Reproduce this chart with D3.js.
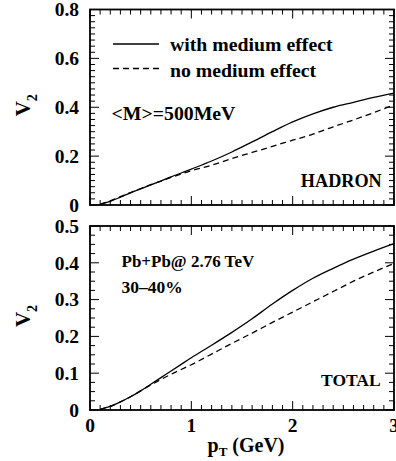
<!DOCTYPE html>
<html><head><meta charset="utf-8">
<script src="https://cdn.jsdelivr.net/npm/d3@7"></script>
</head><body style="margin:0">
<svg id="c" width="396" height="461"></svg>
<script>
const pT = [0.1,0.2,0.3,0.4,0.5,0.6,0.7,0.8,0.9,1.0,1.2,1.4,1.6,1.8,2.0,2.2,2.4,2.6,2.8,3.0];
const hadronWith = [0.003,0.015,0.032,0.05,0.066,0.082,0.098,0.115,0.131,0.147,0.18,0.217,0.258,0.30,0.34,0.373,0.40,0.42,0.44,0.458];
const hadronNo   = [0.004,0.017,0.034,0.051,0.067,0.083,0.098,0.113,0.127,0.14,0.163,0.19,0.215,0.24,0.265,0.29,0.32,0.348,0.378,0.41];
const totalWith  = [0.002,0.01,0.022,0.036,0.052,0.07,0.088,0.106,0.124,0.142,0.176,0.211,0.248,0.288,0.325,0.358,0.385,0.41,0.432,0.452];
const totalNo    = [0.002,0.01,0.022,0.036,0.052,0.068,0.083,0.097,0.11,0.123,0.152,0.181,0.209,0.238,0.266,0.294,0.322,0.35,0.375,0.398];
const xTicks = [0,1,2,3];
const topYTicks = [0,0.2,0.4,0.6,0.8];
const botYTicks = [0,0.1,0.2,0.3,0.4,0.5];
const legendLabels = ["with medium effect","no medium effect"];

const svg = d3.select("#c");
function txt(sel, size){
  return sel.append("text").style("font-family",'"Liberation Serif"').style("font-weight","bold").attr("font-size",size);
}
const x = d3.scaleLinear().domain([0,3]).range([90,394]);
const yTop = d3.scaleLinear().domain([0,0.8]).range([205,9.5]);
const yBot = d3.scaleLinear().domain([0,0.5]).range([410,226]);

function panel(y, yTicks, yFmt, series, yMinorStep, showXLabels){
  const g = svg.append("g");
  const [y0,y1] = y.range();
  const x0 = x.range()[0], x1 = x.range()[1];
  const lineGen = d3.line().x((d,i)=>x(pT[i])).y(d=>y(d)).curve(d3.curveMonotoneX);
  series.forEach(s=>{
    g.append("path").attr("d",lineGen(s.v)).attr("fill","none").attr("stroke","#000")
      .attr("stroke-width",1.3).attr("stroke-dasharray",s.dash?"6,4":null);
  });
  const xMinor = d3.range(0,3.0001,0.1);
  xMinor.forEach(v=>{
    const major = Math.abs(v-Math.round(v))<1e-6;
    const len = major?9:5;
    g.append("line").attr("x1",x(v)).attr("x2",x(v)).attr("y1",y0).attr("y2",y0-len).attr("stroke","#000").attr("stroke-width",1);
    g.append("line").attr("x1",x(v)).attr("x2",x(v)).attr("y1",y1).attr("y2",y1+len).attr("stroke","#000").attr("stroke-width",1);
  });
  const d = y.domain();
  const nMin = Math.round((d[1]-d[0])/yMinorStep);
  for(let i=0;i<=nMin;i++){
    const v = d[0]+i*yMinorStep;
    const major = yTicks.some(t=>Math.abs(t-v)<1e-6);
    const len = major?9:5;
    g.append("line").attr("x1",x0).attr("x2",x0+len).attr("y1",y(v)).attr("y2",y(v)).attr("stroke","#000").attr("stroke-width",1);
    g.append("line").attr("x1",x1).attr("x2",x1-len).attr("y1",y(v)).attr("y2",y(v)).attr("stroke","#000").attr("stroke-width",1);
  }
  g.append("rect").attr("x",x0).attr("y",y1).attr("width",x1-x0).attr("height",y0-y1)
    .attr("fill","none").attr("stroke","#000").attr("stroke-width",1.8);
  yTicks.forEach(v=>{
    txt(g,19.5).attr("x",79).attr("y",y(v)).attr("dy","0.35em").attr("text-anchor","end").text(yFmt(v));
  });
  const mid = (y0+y1)/2;
  const t = txt(g,21).attr("transform",`translate(29.5,${mid-2}) rotate(-90)`).attr("text-anchor","middle");
  t.append("tspan").text("V");
  t.append("tspan").attr("font-size",14).attr("dy",7).text("2");
  if(showXLabels){
    xTicks.forEach(v=>{
      txt(g,19.5).attr("x",x(v)).attr("y",432).attr("text-anchor","middle").text(v);
    });
    const xt = txt(g,20).attr("x",246).attr("y",452).attr("text-anchor","middle");
    xt.append("tspan").text("p");
    xt.append("tspan").attr("font-size",13).attr("dy",4).text("T");
    xt.append("tspan").attr("dy",-4).text(" (GeV)");
  }
}

panel(yTop, topYTicks, v=>v===0?"0":d3.format(".1f")(v),
  [{v:hadronWith,dash:false},{v:hadronNo,dash:true}], 0.025, false);
panel(yBot, botYTicks, v=>v===0?"0":d3.format(".1f")(v),
  [{v:totalWith,dash:false},{v:totalNo,dash:true}], 0.025, true);

svg.append("line").attr("x1",113).attr("x2",159).attr("y1",44).attr("y2",44).attr("stroke","#000").attr("stroke-width",1.3);
svg.append("line").attr("x1",113).attr("x2",159).attr("y1",68.5).attr("y2",68.5).attr("stroke","#000").attr("stroke-width",1.3).attr("stroke-dasharray","6,4");
txt(svg,19.8).attr("x",170).attr("y",51).text(legendLabels[0]);
txt(svg,19.8).attr("x",170).attr("y",76.5).text(legendLabels[1]);
txt(svg,19.8).attr("x",111.5).attr("y",119.5).text("<M>=500MeV");
txt(svg,18.2).attr("x",381.7).attr("y",187).attr("text-anchor","end").text("HADRON");
txt(svg,17).attr("x",121.5).attr("y",266.7).text("Pb+Pb@ 2.76 TeV");
txt(svg,17.5).attr("x",121.5).attr("y",292.5).text("30\u201340%");
txt(svg,17.5).attr("x",380.7).attr("y",386).attr("text-anchor","end").text("TOTAL");
</script>
</body></html>
